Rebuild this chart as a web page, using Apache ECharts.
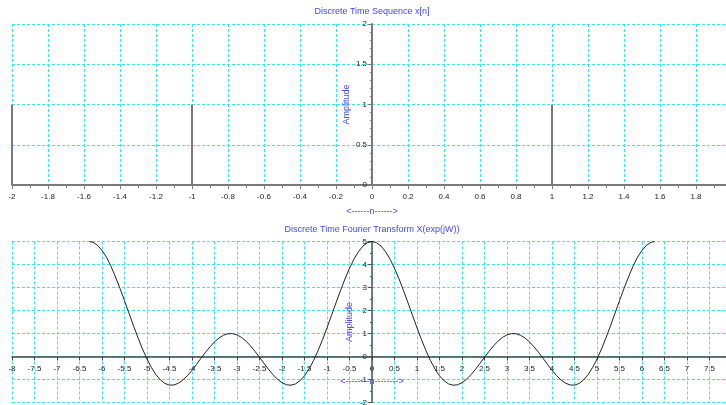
<!DOCTYPE html>
<html>
<head>
<meta charset="utf-8">
<script src="https://cdn.jsdelivr.net/npm/echarts@6/dist/echarts.min.js"></script>
<style>
html,body{margin:0;padding:0;background:#fff;}
#c{width:726px;height:405px;}
</style>
</head>
<body>
<div id="c"></div>
<script>
// ---- Data ----
const seqN = [-2, -1, 0, 1, 2];
const seqX = [1, 1, 1, 1, 1];

const dtftW = [
  -6.2832, -6.2, -6.1, -6.0, -5.9, -5.8, -5.7, -5.6, -5.5, -5.4, -5.3, -5.2, -5.1, -5.0,
  -4.9, -4.8, -4.7, -4.6, -4.5, -4.4, -4.3, -4.2, -4.1, -4.0, -3.9, -3.8, -3.7, -3.6,
  -3.5, -3.4, -3.3, -3.2, -3.1, -3.0, -2.9, -2.8, -2.7, -2.6, -2.5, -2.4, -2.3, -2.2,
  -2.1, -2.0, -1.9, -1.8, -1.7, -1.6, -1.5, -1.4, -1.3, -1.2, -1.1, -1.0, -0.9, -0.8,
  -0.7, -0.6, -0.5, -0.4, -0.3, -0.2, -0.1,
  0, 0.1, 0.2, 0.3, 0.4, 0.5, 0.6, 0.7, 0.8, 0.9, 1.0, 1.1, 1.2, 1.3, 1.4, 1.5, 1.6,
  1.7, 1.8, 1.9, 2.0, 2.1, 2.2, 2.3, 2.4, 2.5, 2.6, 2.7, 2.8, 2.9, 3.0, 3.1, 3.2, 3.3,
  3.4, 3.5, 3.6, 3.7, 3.8, 3.9, 4.0, 4.1, 4.2, 4.3, 4.4, 4.5, 4.6, 4.7, 4.8, 4.9, 5.0,
  5.1, 5.2, 5.3, 5.4, 5.5, 5.6, 5.7, 5.8, 5.9, 6.0, 6.1, 6.2, 6.2832
];
const dtftX = [
  5, 4.964, 4.837, 4.608, 4.317, 3.921, 3.460, 2.957, 2.426, 1.881, 1.338, 0.815, 0.327, -0.111,
  -0.488, -0.794, -1.024, -1.174, -1.244, -1.237, -1.159, -1.019, -0.828, -0.598, -0.344, -0.076, 0.182, 0.423,
  0.635, 0.805, 0.926, 0.990, 0.995, 0.940, 0.829, 0.667, 0.461, 0.223, -0.035, -0.300, -0.557, -0.792,
  -0.990, -1.140, -1.229, -1.248, -1.191, -1.055, -0.839, -0.545, -0.179, 0.250, 0.730, 1.248, 1.789, 2.335,
  2.870, 3.375, 3.836, 4.236, 4.561, 4.802, 4.950,
  5, 4.950, 4.802, 4.561, 4.236, 3.836, 3.375, 2.870, 2.335, 1.789, 1.248, 0.730, 0.250, -0.179, -0.545, -0.839, -1.055,
  -1.191, -1.248, -1.229, -1.140, -0.990, -0.792, -0.557, -0.300, -0.035, 0.223, 0.461, 0.667, 0.829, 0.940, 0.995, 0.990, 0.926,
  0.805, 0.635, 0.423, 0.182, -0.076, -0.344, -0.598, -0.828, -1.019, -1.159, -1.237, -1.244, -1.174, -1.024, -0.794, -0.488, -0.111,
  0.327, 0.815, 1.338, 1.881, 2.426, 2.957, 3.460, 3.921, 4.317, 4.608, 4.837, 4.964, 5
];

const titleTop = 'Discrete Time Sequence x[n]';
const titleBottom = 'Discrete Time Fourier Transform X(exp(jW))';
const yName = 'Amplitude';
const xNameTop = '<------n------>';
const xNameBottom = '<--------n-------->';

// ---- Chart ----
const FONT = "'Liberation Sans', Arial, sans-serif";
const BLUE = '#4646ff';
const GRIDC = '#30ecec';

const chart = echarts.init(document.getElementById('c'), null, {renderer: 'canvas'});

function xAx(gi, min, max, interval, axisColor, lw, minorSplit, name, nameGap, offset) {
  return {
    type: 'value', gridIndex: gi, min: min, max: max, interval: interval,
    position: 'bottom', offset: offset,
    name: name, nameLocation: 'middle', nameGap: nameGap, nameMoveOverlap: false,
    nameTextStyle: {color: BLUE, fontFamily: FONT, fontSize: 9},
    axisLine: {onZero: false, lineStyle: {color: axisColor, width: lw}},
    axisTick: {show: true, inside: false, length: 4, lineStyle: {color: axisColor, width: 1}},
    minorTick: {show: minorSplit > 1, splitNumber: minorSplit || 5, length: 3, lineStyle: {color: axisColor}},
    axisLabel: {color: '#222', fontFamily: FONT, fontSize: 8, margin: 8, showMinLabel: true, showMaxLabel: true, hideOverlap: false},
    splitLine: {show: true, lineStyle: {color: GRIDC, type: [3, 2], width: 1}}
  };
}
function yAx(gi, min, max, interval, axisColor, lw, minorSplit, nameGap, offset) {
  return {
    type: 'value', gridIndex: gi, min: min, max: max, interval: interval,
    position: 'left', offset: offset,
    name: yName, nameLocation: 'middle', nameGap: nameGap, nameMoveOverlap: false,
    nameTextStyle: {color: BLUE, fontFamily: FONT, fontSize: 9},
    axisLine: {onZero: false, lineStyle: {color: axisColor, width: lw}},
    axisTick: {show: true, inside: false, length: 4, lineStyle: {color: axisColor, width: 1}},
    minorTick: {show: minorSplit > 1, splitNumber: minorSplit, length: 2, lineStyle: {color: axisColor}},
    axisLabel: {color: '#222', fontFamily: FONT, fontSize: 8, margin: 5, hideOverlap: false},
    splitLine: {show: true, lineStyle: {color: GRIDC, type: [3, 2], width: 1}}
  };
}

const option = {
  backgroundColor: '#fff',
  animation: false,
  graphic: [
    {type: 'text', x: 372, y: 12, style: {text: titleTop, fill: BLUE, font: '9px ' + FONT, textAlign: 'center', textVerticalAlign: 'middle'}},
    {type: 'text', x: 372, y: 230, style: {text: titleBottom, fill: BLUE, font: '9px ' + FONT, textAlign: 'center', textVerticalAlign: 'middle'}}
  ],
  grid: [
    {left: 12, top: 24, width: 720, height: 161, containLabel: false, outerBoundsMode: 'none'},
    {left: 12, top: 241.5, width: 720, height: 161, containLabel: false, outerBoundsMode: 'none'}
  ],
  xAxis: [
    xAx(0, -2, 2, 0.2, '#7a7a7a', 2, 2, xNameTop, 22, 0),
    xAx(1, -8, 8, 0.5, '#444', 1.5, 0, xNameBottom, 21, -46)
  ],
  yAxis: [
    yAx(0, 0, 2, 0.5, '#7a7a7a', 2, 5, 21, -360),
    yAx(1, -2, 5, 1, '#555', 1.5, 2, 18, -360)
  ],
  series: [
    {
      type: 'custom', xAxisIndex: 0, yAxisIndex: 0, z: 1,
      data: seqN.map((n, i) => [n, seqX[i]]),
      renderItem: function (params, api) {
        const p0 = api.coord([api.value(0), 0]);
        const p1 = api.coord([api.value(0), api.value(1)]);
        return {type: 'line', shape: {x1: p0[0], y1: p0[1], x2: p1[0], y2: p1[1]},
                style: {stroke: '#7a7a7a', lineWidth: 2}};
      }
    },
    {
      type: 'line', xAxisIndex: 1, yAxisIndex: 1, showSymbol: false, smooth: false,
      lineStyle: {color: '#222', width: 1},
      data: dtftW.map((w, i) => [w, dtftX[i]])
    }
  ]
};
chart.setOption(option);
</script>
</body>
</html>
